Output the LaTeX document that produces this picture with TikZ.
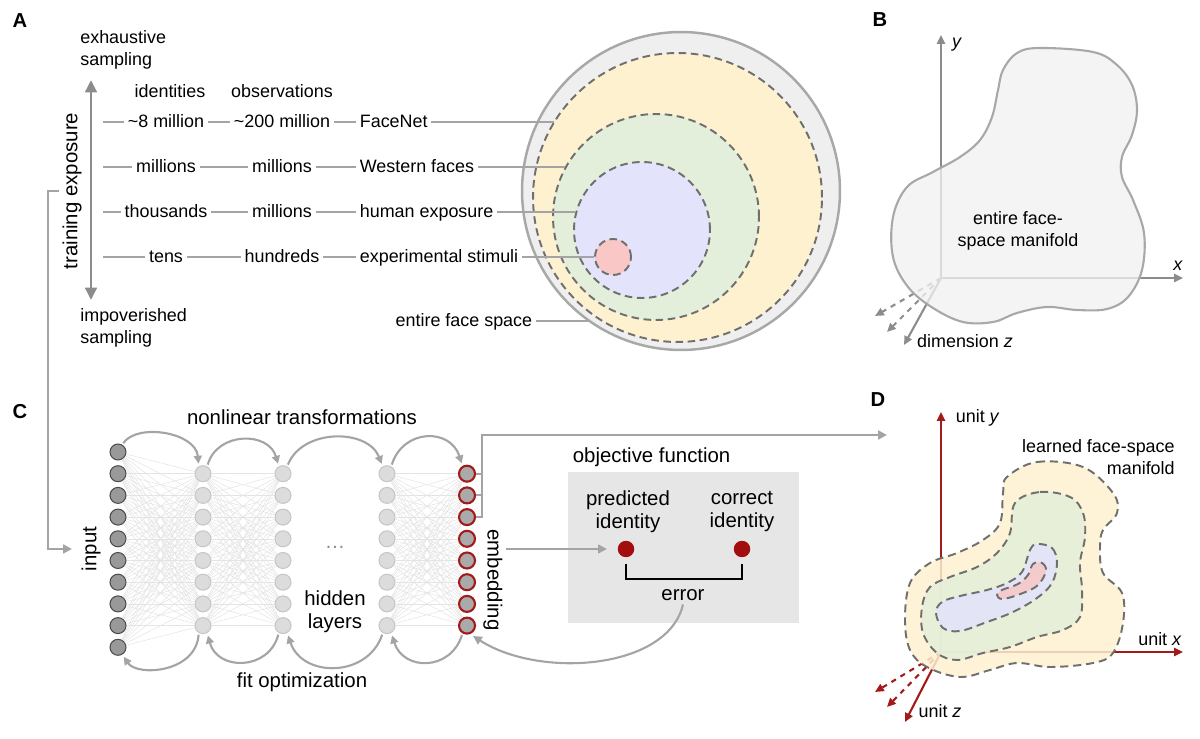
\documentclass[tikz,border=0pt]{standalone}
\usepackage{fontspec}
\setmainfont{Liberation Sans}
\usetikzlibrary{arrows.meta}

\definecolor{linkgray}{HTML}{A4A4A4}
\definecolor{axisgray}{HTML}{8C8C8C}
\definecolor{dashgray}{HTML}{6F6F6F}
\definecolor{spacegray}{HTML}{EFEFEF}
\definecolor{rimgray}{HTML}{A8A8A8}
\definecolor{fnyellow}{HTML}{FEF1CF}
\definecolor{wfgreen}{HTML}{E3EFDA}
\definecolor{hepurple}{HTML}{E3E3FB}
\definecolor{esred}{HTML}{F8C7C6}
\definecolor{boxgray}{HTML}{E6E6E6}
\definecolor{unitred}{HTML}{A31A1A}
\definecolor{dotred}{HTML}{A20D0D}
\definecolor{wiregray}{HTML}{E4E4E4}
\definecolor{inputfill}{HTML}{999999}
\definecolor{hidfill}{HTML}{DCDCDC}
\definecolor{hiddraw}{HTML}{C6C6C6}
\definecolor{embfill}{HTML}{AAAAAA}

\begin{document}
\begin{tikzpicture}[
        x=0.02cm, y=-0.02cm,
        txt/.style={font=\fontsize{10.2}{12.5}\selectfont, inner sep=2pt, text height=1.5ex, text depth=.35ex},
        note/.style={font=\fontsize{10.2}{12.5}\selectfont, inner sep=0pt},
        bigtxt/.style={font=\fontsize{11.6}{13.2}\selectfont, inner sep=2pt},
        panel/.style={font=\fontsize{11.5}{13}\selectfont\bfseries},
        link/.style={linkgray, line width=1.1pt},
        feed/.style={linkgray, line width=1.2pt, -{Triangle[length=5pt,width=5pt]}},
        sweep/.style={linkgray, line width=1.2pt, -{Triangle[length=4.5pt,width=4.5pt]}, shorten >=1.5pt, shorten <=1pt},
        zone/.style={circle, draw=dashgray, line width=1.1pt, dash pattern=on 4.3pt off 2.6pt, inner sep=0pt},
        blob/.style={draw=dashgray, line width=1.1pt, dash pattern=on 4.6pt off 2.8pt, fill opacity=0.85},
        axisline/.style={axisgray, line width=1.2pt, -{Triangle[length=5pt,width=4.5pt]}},
        unitline/.style={unitred, line width=1.2pt, -{Triangle[length=5pt,width=4.5pt]}},
        wire/.style={wiregray, line width=0.3pt},
        inunit/.style={circle, inner sep=0pt, minimum size=0.32cm, fill=inputfill, draw=black!70, line width=0.6pt},
        hidunit/.style={circle, inner sep=0pt, minimum size=0.32cm, fill=hidfill, draw=hiddraw, line width=0.6pt},
        embunit/.style={circle, inner sep=0pt, minimum size=0.32cm, fill=embfill, draw=unitred, line width=1.2pt}
        ]
    \useasboundingbox (0, 0) rectangle (1200, 739);

    % A: sampling of face space
    \node (A) at (20, 21) [panel] {A};
    \node (exh) at (80, 50) [note, anchor=west, align=left] {exhaustive\\sampling};
    \node (imp) at (80, 328) [note, anchor=west, align=left] {impoverished\\sampling};
    \coordinate (tetop) at (91, 80);
    \coordinate (tebot) at (91, 300);
    \draw[axisgray, line width=1.7pt, {Triangle[length=7pt,width=6.5pt]}-{Triangle[length=7pt,width=6.5pt]}] (tetop) to (tebot);
    \node (texp) at (72, 191) [bigtxt, rotate=90] {training exposure};
    \node (ids) at (170, 92) [txt] {identities};
    \node (obs) at (282, 92) [txt] {observations};

    \node (space) at (681, 191) [circle, fill=spacegray, draw=rimgray, line width=1.4pt, minimum size=6.36cm, inner sep=0pt] {};
    \node (fnzone) at (677.5, 197.5) [zone, fill=fnyellow, minimum size=5.78cm] {};
    \node (wfzone) at (656, 217) [zone, fill=wfgreen, minimum size=4.12cm] {};
    \node (hezone) at (642, 230) [zone, fill=hepurple, minimum size=2.72cm] {};
    \node (eszone) at (613, 257) [zone, fill=esred, minimum size=0.72cm] {};

    \foreach \y/\r/\a/\b/\c/\z in {
            122/1/{\textasciitilde8 million}/{\textasciitilde200 million}/FaceNet/fnzone.148,
            167/2/millions/millions/{Western faces}/wfzone.151,
            212/3/thousands/millions/{human exposure}/hezone.165,
            257/4/tens/hundreds/{experimental stimuli}/eszone.180} {
        \coordinate (row\r) at (103, \y);
        \node (id\r) at (166, \y) [txt] {\a};
        \node (ob\r) at (282, \y) [txt] {\b};
        \node (sp\r) at (356, \y) [txt, anchor=west] {\c};
        \draw[link] (row\r) to (id\r);
        \draw[link] (id\r) to (ob\r);
        \draw[link] (ob\r) to (sp\r);
        \draw[link] (sp\r) to (sp\r.east -| \z);
    }
    \node (efs) at (536, 321) [txt, anchor=east] {entire face space};
    \draw[link] (efs) to (efs.east -| space.235);

    % B: entire manifold
    \node (B) at (880, 20) [panel] {B};
    \coordinate (bO) at (941, 278);
    \coordinate (bY) at (941, 35);
    \coordinate (bX) at (1183, 278);
    \coordinate (bZ) at (904, 345);
    \coordinate (bZa) at (875, 316);
    \coordinate (bZb) at (887, 332);
    \draw[axisline] (bO) to (bY);
    \draw[axisline] (bO) to (bX);
    \draw[axisline] (bO) to (bZ);
    \draw[axisline, dashed] (bO) to (bZa);
    \draw[axisline, dashed] (bO) to (bZb);
    \filldraw[fill=spacegray!85!white, fill opacity=0.78, draw=rimgray, line width=1.2pt]
        plot[smooth cycle, tension=0.6] coordinates {
        (1003,70) (1017,53) (1040,48) (1093,52) (1117,65) (1132,85) (1137,110)
        (1132,135) (1122,157) (1122,177) (1133,200) (1144,233) (1142,270)
        (1128,297) (1107,309) (1077,310) (1047,307) (1017,313) (993,322)
        (963,322) (933,308) (908,287) (893,257) (893,217) (907,187) (933,172)
        (960,157) (980,140) (992,117) (998,90)};
    \node (ylab) at (957, 42) [txt] {\textit{y}};
    \node (xlab) at (1178, 265) [txt] {\textit{x}};
    \node (zlab) at (965, 342) [txt] {dimension \textit{z}};
    \node (bman) at (1018, 231) [note, align=center] {entire face-\\space manifold};

    % C: network
    \node (C) at (20, 412) [panel] {C};
    \foreach \i in {0,...,9}
        \node (L0-\i) at (118, {452+\i*21.7}) [inunit] {};
    \foreach \l/\x in {1/203, 2/283, 3/387}
        \foreach \i in {0,...,7}
            \node (L\l-\i) at (\x, {473.7+\i*21.7}) [hidunit] {};
    \foreach \i in {0,...,7}
        \node (L4-\i) at (467, {473.7+\i*21.7}) [embunit] {};
    \foreach \i in {0,...,9}
        \foreach \j in {0,...,7}
            \draw[wire] (L0-\i) to (L1-\j);
    \foreach \a/\b in {1/2, 3/4}
        \foreach \i in {0,...,7}
            \foreach \j in {0,...,7}
                \draw[wire] (L\a-\i) to (L\b-\j);

    \node (inp) at (91, 549) [bigtxt, rotate=90] {input};
    \node (emb) at (493, 580) [bigtxt, rotate=-90] {embedding};
    \node (nlt) at (302, 417) [bigtxt] {nonlinear transformations};
    \node (fit) at (302, 682) [bigtxt] {fit optimization};
    \node (hid) at (335, 611.5) [bigtxt, align=center] {hidden\\layers};
    \node (gap) at (335, 547) [bigtxt, text=black!45] {\dots};

    \coordinate (inbend) at (48, 549);
    \coordinate (inarr) at (72, 549);
    \draw[feed] (texp.north) -| (inbend) -- (inarr);

    \draw[sweep] (L0-0.60) .. controls +(15,-22) and +(-3,-34) .. (L1-0.120);
    \draw[sweep] (L1-0.60) .. controls +(10,-35) and +(-10,-35) .. (L2-0.120);
    \draw[sweep] (L2-0.60) .. controls +(15,-38) and +(-15,-38) .. (L3-0.120);
    \draw[sweep] (L3-0.60) .. controls +(12,-38) and +(-12,-38) .. (L4-0.120);
    \draw[sweep] (L4-7.-120) .. controls +(-12,38) and +(12,38) .. (L3-7.-60);
    \draw[sweep] (L3-7.-120) .. controls +(-15,45) and +(15,45) .. (L2-7.-60);
    \draw[sweep] (L2-7.-120) .. controls +(-10,38) and +(10,38) .. (L1-7.-60);
    \draw[sweep] (L1-7.-120) .. controls +(-3,40) and +(15,22) .. (L0-9.-60);

    \coordinate (embtop) at (482, 435);
    \coordinate (toD) at (887, 435);
    \draw[link] (L4-0) to (L4-0 -| embtop);
    \draw[link] (L4-1) to (L4-1 -| embtop);
    \draw[feed] (L4-2) -| (embtop) -- (toD);

    \node (objbox) at (683.5, 547.5) [fill=boxgray, minimum width=132pt, minimum height=85.6pt, inner sep=0pt] {};
    \node (objt) at (569, 457) [bigtxt, anchor=west] {objective function};
    \node (pred) at (628, 511.5) [bigtxt, align=center] {predicted\\identity};
    \node (corr) at (742, 511.5) [bigtxt, align=center] {correct\\identity};
    \node (pdot) at (626, 549) [circle, fill=dotred, minimum size=0.33cm, inner sep=0pt] {};
    \node (cdot) at (742, 549) [circle, fill=dotred, minimum size=0.33cm, inner sep=0pt] {};
    \node (err) at (683, 595) [bigtxt] {error};
    \draw[black, line width=1.3pt] ([yshift=-3.5pt]pdot.south) -- ++(0,15) -| ([yshift=-3.5pt]cdot.south);
    \draw[feed, shorten >=6pt] (emb.north |- pdot) to (pdot);
    \draw[feed, shorten >=2pt] (err.south) .. controls +(-15,65) and +(70,45) .. (L4-7.-70);

    % D: learned manifold
    \node (D) at (878, 400) [panel] {D};
    \coordinate (dO) at (941, 652);
    \coordinate (dY) at (941, 412);
    \coordinate (dX) at (1183, 652);
    \coordinate (dZ) at (905, 722);
    \coordinate (dZa) at (875, 692);
    \coordinate (dZb) at (887, 707);
    \draw[unitline] (dO) to (dY);
    \draw[unitline] (dO) to (dX);
    \draw[unitline] (dO) to (dZ);
    \draw[unitline, dashed] (dO) to (dZa);
    \draw[unitline, dashed] (dO) to (dZb);
    \filldraw[blob, fill=fnyellow] plot[smooth cycle, tension=0.6] coordinates {
        (1007,477) (1037,462) (1083,467) (1113,493) (1117,513) (1103,530)
        (1100,547) (1103,573) (1122,593) (1123,623) (1113,653) (1093,663)
        (1050,667) (1017,663) (990,670) (960,677) (927,667) (910,650)
        (905,620) (910,583) (930,563) (957,553) (983,540) (1000,523) (1003,493)};
    \filldraw[blob, fill=wfgreen] plot[smooth cycle, tension=0.6] coordinates {
        (1015,503) (1040,492) (1070,497) (1083,513) (1085,537) (1080,563)
        (1082,590) (1080,617) (1063,630) (1037,637) (1010,647) (983,653)
        (957,660) (937,653) (923,633) (922,607) (930,587) (950,577)
        (977,567) (997,553) (1010,533)};
    \filldraw[blob, fill=hepurple] plot[smooth cycle, tension=0.6] coordinates {
        (1037,544) (1052,548) (1057,563) (1052,583) (1037,598) (1013,612)
        (987,622) (960,631) (943,628) (936,613) (942,602) (960,596)
        (987,590) (1007,583) (1022,572) (1030,550)};
    \filldraw[blob, fill=esred] plot[smooth cycle, tension=0.6] coordinates {
        (1033,564) (1042,563) (1046,571) (1038,585) (1023,593) (1003,599)
        (997,595) (1002,590) (1018,584) (1028,575)};
    \node (uy) at (952, 417) [txt, anchor=west] {unit \textit{y}};
    \node (ux) at (1160, 640) [txt] {unit \textit{x}};
    \node (uz) at (940, 712) [txt] {unit \textit{z}};
    \node (lfs) at (1175, 457.5) [note, anchor=east, align=right] {learned face-space\\manifold};
\end{tikzpicture}
\end{document}
